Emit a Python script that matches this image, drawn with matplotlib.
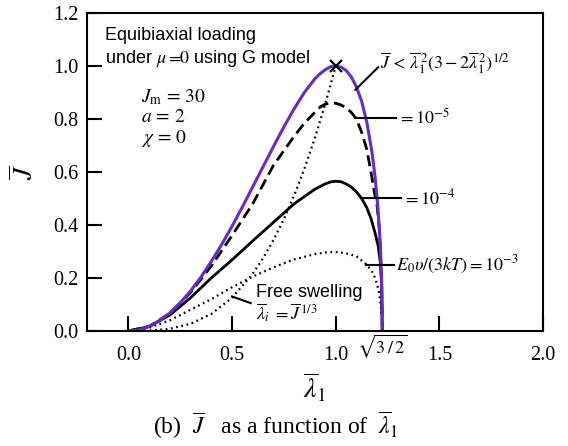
import numpy as np
import matplotlib
matplotlib.use("Agg")
import matplotlib.pyplot as plt

plt.rcParams["font.family"] = "Liberation Serif"
plt.rcParams["mathtext.fontset"] = "stix"

# values
lam_limit = [0.0, 0.05, 0.1, 0.15, 0.2, 0.25, 0.3, 0.35, 0.4, 0.45, 0.5, 0.55,
             0.6, 0.65, 0.7, 0.75, 0.8, 0.85, 0.9, 0.925, 0.95, 0.975, 1.0,
             1.025, 1.05, 1.075, 1.1, 1.125, 1.15, 1.175, 1.19, 1.2, 1.205,
             1.21, 1.215, 1.22, 1.2225, 1.224, 1.2247]
J_limit = [0.0, 0.004, 0.017, 0.039, 0.068, 0.106, 0.151, 0.203, 0.262, 0.326,
           0.395, 0.468, 0.544, 0.62, 0.696, 0.77, 0.839, 0.901, 0.952, 0.971,
           0.986, 0.997, 1.0, 0.996, 0.983, 0.959, 0.921, 0.867, 0.788, 0.675,
           0.58, 0.499, 0.45, 0.392, 0.322, 0.227, 0.157, 0.09, 0.0]

lam_1e5 = [0.0, 0.1, 0.2, 0.3, 0.4, 0.5, 0.6, 0.7, 0.8, 0.85, 0.9, 0.925,
           0.95, 0.975, 1.0, 1.025, 1.05, 1.075, 1.1, 1.125, 1.15, 1.17,
           1.185, 1.2, 1.21, 1.22, 1.2247]
J_1e5 = [0.0, 0.017, 0.066, 0.145, 0.245, 0.36, 0.48, 0.625, 0.735, 0.785,
         0.825, 0.845, 0.856, 0.86, 0.859, 0.853, 0.842, 0.825, 0.80, 0.75,
         0.685, 0.60, 0.53, 0.47, 0.39, 0.227, 0.0]

lam_1e4 = [0.0, 0.1, 0.2, 0.3, 0.4, 0.5, 0.6, 0.7, 0.8, 0.9, 0.95, 0.975,
           1.0, 1.025, 1.05, 1.075, 1.1, 1.125, 1.15, 1.17, 1.19, 1.205,
           1.215, 1.222, 1.2247]
J_1e4 = [0.0, 0.016, 0.06, 0.125, 0.2, 0.268, 0.34, 0.41, 0.48, 0.535,
         0.555, 0.562, 0.565, 0.563, 0.555, 0.543, 0.525, 0.50, 0.465, 0.425,
         0.37, 0.32, 0.26, 0.17, 0.0]

lam_1e3 = [0.0, 0.1, 0.2, 0.3, 0.4, 0.5, 0.6, 0.7, 0.8, 0.9, 0.95, 1.0,
           1.05, 1.1, 1.15, 1.175, 1.19, 1.2, 1.21, 1.22, 1.2247]
J_1e3 = [0.0, 0.012, 0.04, 0.08, 0.12, 0.165, 0.205, 0.24, 0.27, 0.29,
         0.296, 0.298, 0.293, 0.282, 0.25, 0.225, 0.2, 0.175, 0.14, 0.08, 0.0]

lam_free = [0.0, 0.1, 0.2, 0.3, 0.4, 0.5, 0.6, 0.65, 0.7, 0.75, 0.8, 0.85,
            0.9, 0.95, 1.0]
J_free = [0.0, 0.001, 0.008, 0.027, 0.064, 0.125, 0.216, 0.275, 0.343, 0.422,
          0.512, 0.614, 0.729, 0.857, 1.0]

x_ticks = [0.0, 0.5, 1.0, 1.5, 2.0]
x_labels = ["0.0", "0.5", "1.0", "1.5", "2.0"]
y_ticks = [0.0, 0.2, 0.4, 0.6, 0.8, 1.0, 1.2]
y_labels = ["0.0", "0.2", "0.4", "0.6", "0.8", "1.0", "1.2"]

PURPLE = "#6a28d0"

fig = plt.figure(figsize=(5.68, 4.46), dpi=100)
ax = fig.add_axes([0.153, 0.258, 0.803, 0.713])

dots = (0, (0.8, 1.6))
ax.plot(lam_free, J_free, color="black", lw=1.6, ls=dots)
ax.plot(lam_1e3, J_1e3, color="black", lw=1.6, ls=dots)
ax.plot(lam_1e4, J_1e4, color="black", lw=2.0)
ax.plot(lam_1e5, J_1e5, color="black", lw=2.0, ls=(0, (4, 2)))
ax.plot(lam_limit, J_limit, color=PURPLE, lw=2.2)
ax.plot([1.0], [1.0], marker="x", color="black", ms=9, mew=1.6)

ax.set_xlim(-0.2, 2.0)
ax.set_ylim(0.0, 1.2)
ax.set_xticks(x_ticks)
ax.set_xticklabels(x_labels)
ax.set_yticks(y_ticks)
ax.set_yticklabels(y_labels)
ax.tick_params(direction="in", length=11, width=1.5, labelsize=14.5)
ax.tick_params(axis="x", pad=11)
ax.tick_params(axis="y", pad=6)
for sp in ax.spines.values():
    sp.set_linewidth(1.5)

ax.text(1.2247, -0.008, r"$\sqrt{3\,/\,2}$", ha="center", va="top", fontsize=13)

ax.set_xlabel(r"$\overline{\lambda}_1$", fontsize=20, labelpad=4)
ax.set_ylabel(r"$\overline{J}$", fontsize=20, rotation=90, labelpad=10)

# annotations
sans = "Liberation Sans"
ax.text(-0.115, 1.115, "Equibiaxial loading", fontsize=13, family=sans, va="center")
ax.text(-0.115, 1.028, r"under $\mu$ $\!\!=\!\!0$ using G model", fontsize=13,
        family=sans, va="center")
ax.text(0.06, 0.883, r"$J_\mathrm{m}\,=\,30$", fontsize=14, va="center")
ax.text(0.06, 0.804, r"$a\,=\,2$", fontsize=14, va="center")
ax.text(0.06, 0.728, r"$\chi\,=\,0$", fontsize=14, va="center")

ax.plot([1.095, 1.205], [0.91, 0.995], color="black", lw=1.5)
ax.text(1.215, 1.01,
        r"$\overline{J}\, <\, \overline{\lambda}_1^{\,2}(3-2\overline{\lambda}_1^{\,2})^{1/2}$",
        fontsize=13, va="center")

ax.plot([1.095, 1.29], [0.805, 0.805], color="black", lw=1.5)
ax.text(1.30, 0.805, r"$=10^{-5}$", fontsize=13, va="center")

ax.plot([1.125, 1.315], [0.50, 0.50], color="black", lw=1.5)
ax.text(1.325, 0.50, r"$=10^{-4}$", fontsize=13, va="center")

ax.plot([1.145, 1.28], [0.25, 0.25], color="black", lw=1.5)
ax.text(1.29, 0.25, r"$E_0\upsilon/(3kT) = 10^{-3}$", fontsize=13, va="center")

ax.plot([0.5, 0.59], [0.13, 0.105], color="black", lw=1.5)
ax.text(0.615, 0.145, "Free swelling", fontsize=13, family=sans, va="center")
ax.text(0.615, 0.07, r"$\overline{\lambda}_i\ = \overline{J}^{\,1/3}$", fontsize=13,
        va="center")

fig.text(0.486, 0.047, r"(b)  $\overline{J}$   as a function of  $\overline{\lambda}_1$",
         ha="center", va="center", fontsize=17)

fig.savefig("out.png", dpi=100)
